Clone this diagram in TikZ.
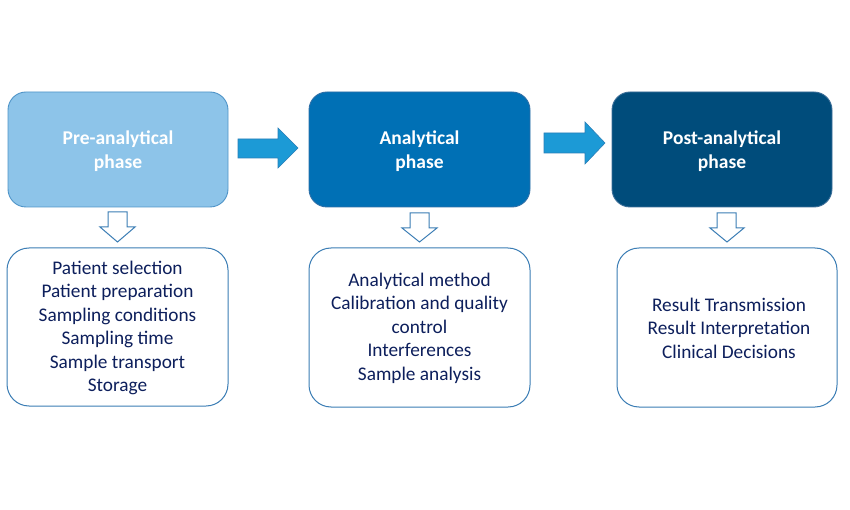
\documentclass[tikz,border=0pt]{standalone}
\usepackage{fontspec}
\setmainfont{Carlito}
\definecolor{pre}{HTML}{8DC4E9}
\definecolor{preb}{HTML}{4F94C8}
\definecolor{ana}{HTML}{0070B5}
\definecolor{anab}{HTML}{2E6FA7}
\definecolor{post}{HTML}{004C7B}
\definecolor{postb}{HTML}{3C6E98}
\definecolor{arr}{HTML}{1C9AD6}
\definecolor{arrb}{HTML}{2A7FB8}
\definecolor{navy}{HTML}{0D1F5C}
\definecolor{listb}{HTML}{3B7DB5}
\begin{document}
\begin{tikzpicture}[x=1pt,y=-1pt,
  phasebox/.style={rounded corners=18pt, line width=0.9pt, text=white,
    font=\fontsize{19.5}{24}\selectfont\bfseries, align=center},
  listbox/.style={rounded corners=22pt, draw=listb, line width=1pt, fill=white,
    text=navy, font=\fontsize{19.3}{23.5}\selectfont, align=center},
  blockarrow/.style={fill=arr, draw=arrb, line width=0.6pt},
  hollowarrow/.style={fill=white, draw=listb, line width=1pt, line join=miter}]
\path[use as bounding box, fill=white] (0,0) rectangle (850,510);
% top phase boxes
\path[phasebox, fill=pre, draw=preb] (8,92) rectangle (228,207);
\node (p1) at (118,151) [phasebox] {Pre-analytical\\phase};
\path[phasebox, fill=ana, draw=anab] (309,92) rectangle (530,207);
\node (p2) at (419.5,151) [phasebox] {Analytical\\phase};
\path[phasebox, fill=post, draw=postb] (612,92) rectangle (832,207);
\node (p3) at (722,151) [phasebox] {Post-analytical\\phase};
% bottom lists
\path[listbox] (7,248) rectangle (228,406);
\node (l1) at (117.5,328) [listbox, draw=none, fill=none] {Patient selection\\Patient preparation\\Sampling conditions\\Sampling time\\Sample transport\\Storage};
\path[listbox] (309,248) rectangle (530,407);
\node (l2) at (419.5,328) [listbox, draw=none, fill=none] {Analytical method\\Calibration and quality\\control\\Interferences\\Sample analysis};
\path[listbox] (617,248) rectangle (837,407);
\node (l3) at (729,328) [listbox, draw=none, fill=none] {Result Transmission\\Result Interpretation\\Clinical Decisions};
% block arrows between phases
\draw[blockarrow] (238,139) -- (278,139) -- (278,128) -- (298,148) -- (278,168) -- (278,158) -- (238,158) -- cycle;
\draw[blockarrow] (544,133) -- (585,133) -- (585,122) -- (605,143) -- (585,164) -- (585,153) -- (544,153) -- cycle;
% hollow down arrows
\draw[hollowarrow] (108,212) -- (127,212) -- (127,227) -- (135,227) -- (117.5,242) -- (100,227) -- (108,227) -- cycle;
\draw[hollowarrow] (410,213) -- (429,213) -- (429,228) -- (437,228) -- (419.5,242) -- (402,228) -- (410,228) -- cycle;
\draw[hollowarrow] (717,213) -- (736,213) -- (736,228) -- (744,228) -- (727,242) -- (710,228) -- (717,228) -- cycle;
\end{tikzpicture}
\end{document}
